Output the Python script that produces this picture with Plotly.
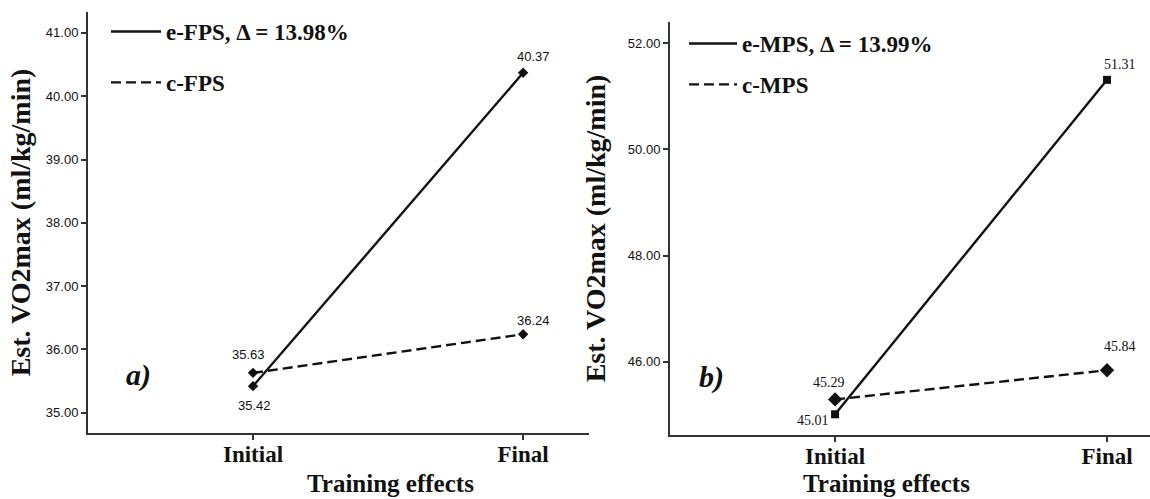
import plotly.graph_objects as go

# ---- data ----
phases = ["Initial", "Final"]
e_fps = [35.42, 40.37]
c_fps = [35.63, 36.24]
e_mps = [45.01, 51.31]
c_mps = [45.29, 45.84]
names_left = ["e-FPS, Δ = 13.98%", "c-FPS"]
names_right = ["e-MPS, Δ = 13.99%", "c-MPS"]
yticks_left = [35, 36, 37, 38, 39, 40, 41]
yticks_right = [46, 48, 50, 52]

W, H = 1150, 499
SERIF = "Liberation Serif"
SANS = "Liberation Sans"
INK = "#111111"
DASH = "10px,5px"

def px_x(p):
    return p / W

def px_y(p):
    return 1 - p / H

def bold(size, family=SERIF):
    return dict(size=size, family=family, color=INK, weight="bold")

fig = go.Figure()

# left panel
fig.add_trace(go.Scatter(x=phases, y=e_fps, mode="lines", name=names_left[0],
                         line=dict(color=INK, width=2.4), xaxis="x", yaxis="y",
                         legend="legend", legendgroup="a1"))
fig.add_trace(go.Scatter(x=phases, y=c_fps, mode="lines", name=names_left[1],
                         line=dict(color=INK, width=2.4, dash=DASH), xaxis="x", yaxis="y",
                         legend="legend", legendgroup="a2"))
fig.add_trace(go.Scatter(x=phases, y=e_fps, mode="markers", showlegend=False,
                         marker=dict(symbol="diamond", size=8, color=INK), xaxis="x", yaxis="y"))
fig.add_trace(go.Scatter(x=phases, y=c_fps, mode="markers", showlegend=False,
                         marker=dict(symbol="diamond", size=8, color=INK), xaxis="x", yaxis="y"))

# right panel
fig.add_trace(go.Scatter(x=phases, y=e_mps, mode="lines", name=names_right[0],
                         line=dict(color=INK, width=2.4), xaxis="x2", yaxis="y2",
                         legend="legend2", legendgroup="b1"))
fig.add_trace(go.Scatter(x=phases, y=c_mps, mode="lines", name=names_right[1],
                         line=dict(color=INK, width=2.4, dash=DASH), xaxis="x2", yaxis="y2",
                         legend="legend2", legendgroup="b2"))
fig.add_trace(go.Scatter(x=phases, y=e_mps, mode="markers", showlegend=False,
                         marker=dict(symbol="square", size=8, color=INK), xaxis="x2", yaxis="y2"))
fig.add_trace(go.Scatter(x=phases, y=c_mps, mode="markers", showlegend=False,
                         marker=dict(symbol="diamond", size=11, color=INK), xaxis="x2", yaxis="y2"))

axis_common = dict(showline=True, linecolor="#333333", linewidth=2, showgrid=False,
                   zeroline=False, ticks="outside", ticklen=5, tickcolor="#333333",
                   tickwidth=1.5)

fig.update_layout(
    width=W, height=H,
    margin=dict(l=0, r=0, t=0, b=0),
    paper_bgcolor="white", plot_bgcolor="white",
    font=dict(family=SERIF, color=INK),
    xaxis=dict(domain=[px_x(88), px_x(589)], anchor="y", type="category",
               categoryorder="array", categoryarray=phases,
               range=[-0.611, 1.244], tickfont=bold(23), ticklabelstandoff=-6,
               **axis_common),
    yaxis=dict(domain=[px_y(433), px_y(12)], anchor="x", range=[34.68, 41.33],
               tickvals=yticks_left, tickformat=".2f",
               tickfont=dict(size=13, family=SANS, color=INK),
               title=dict(text="Est. VO2max (ml/kg/min)", font=bold(28), standoff=7),
               **axis_common),
    xaxis2=dict(domain=[px_x(670), 1.0], anchor="y2", type="category",
                categoryorder="array", categoryarray=phases,
                range=[-0.607, 1.158], tickfont=bold(23), ticklabelstandoff=-6,
                **axis_common),
    yaxis2=dict(domain=[px_y(435), px_y(22)], anchor="x2", range=[44.62, 52.4],
                tickvals=yticks_right, tickformat=".2f",
                tickfont=dict(size=13, family=SANS, color=INK),
                title=dict(text="Est. VO2max (ml/kg/min)", font=bold(28), standoff=14),
                **axis_common),
    legend=dict(x=px_x(106), y=px_y(10), xanchor="left", yanchor="top",
                bgcolor="rgba(0,0,0,0)", font=bold(23),
                traceorder="grouped", tracegroupgap=18, itemwidth=50),
    legend2=dict(x=px_x(684), y=px_y(22), xanchor="left", yanchor="top",
                 bgcolor="rgba(0,0,0,0)", font=bold(23),
                 traceorder="grouped", tracegroupgap=8, itemwidth=48),
)

# x axis titles
fig.add_annotation(text="Training effects", xref="paper", yref="paper",
                   x=px_x(390), y=0, yanchor="bottom", showarrow=False,
                   font=bold(25))
fig.add_annotation(text="Training effects", xref="paper", yref="paper",
                   x=px_x(972), y=0, yanchor="bottom", showarrow=False,
                   font=bold(25))

# panel letters
fig.add_annotation(text="<i>a)</i>", xref="paper", yref="paper",
                   x=px_x(124), y=px_y(375), yanchor="middle", showarrow=False, font=bold(30))
fig.add_annotation(text="<i>b)</i>", xref="paper", yref="paper",
                   x=px_x(711), y=px_y(377), yanchor="middle", showarrow=False, font=bold(30))

# data labels
lab_font = dict(size=13, family=SANS, color=INK)
lab_font_r = dict(size=14, family=SERIF, color=INK)
left_shifts = {"e": [(1, -19), (10, 16)], "c": [(-5, 18), (10, 14)]}
right_shifts = {"e": [(-22, -6), (13, 15)], "c": [(-6, 17), (13, 24)]}
for key, vals in (("e", e_fps), ("c", c_fps)):
    for i, v in enumerate(vals):
        dx, dy = left_shifts[key][i]
        fig.add_annotation(x=phases[i], y=v, xref="x", yref="y", text=f"{v:.2f}",
                           showarrow=False, xshift=dx, yshift=dy, font=lab_font)
for key, vals in (("e", e_mps), ("c", c_mps)):
    for i, v in enumerate(vals):
        dx, dy = right_shifts[key][i]
        fig.add_annotation(x=phases[i], y=v, xref="x2", yref="y2", text=f"{v:.2f}",
                           showarrow=False, xshift=dx, yshift=dy, font=lab_font_r)

fig.write_html("out.html", config={"displayModeBar": False},
               post_script="document.body.style.margin='0';")
